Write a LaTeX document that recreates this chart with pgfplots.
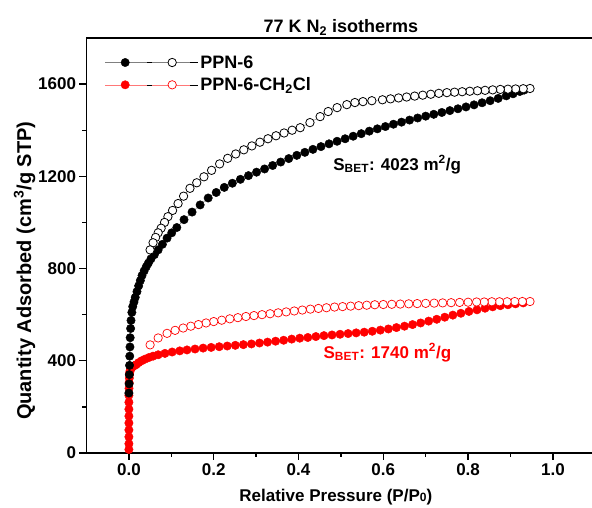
\documentclass[border=0pt]{standalone}
\usepackage{fontspec}
\setmainfont{Liberation Sans}
\usepackage{pgfplots}
\pgfplotsset{compat=1.18}

\definecolor{ppnred}{RGB}{255,0,0}
\definecolor{ppnredline}{RGB}{255,120,120}

\newcommand{\lbl}{\bfseries\fontsize{17}{20}\selectfont}

\begin{document}
\begin{tikzpicture}
\useasboundingbox (-86.5pt,-55pt) rectangle (505.5pt,453pt);
\begin{axis}[
  scale only axis,
  width=508.8pt, height=415pt,
  xmin=-0.1, xmax=1.1, ymin=0, ymax=1800,
  xtick={0,0.2,0.4,0.6,0.8,1.0},
  ytick={0,400,800,1200,1600},
  minor x tick num=1, minor y tick num=1,
  tick pos=left, tick align=outside,
  major tick length=7pt, minor tick length=4pt,
  every tick/.style={black, line width=1.3pt},
  axis line style={line width=1.6pt},
  /pgf/number format/assume math mode=true,
  xticklabel style={/pgf/number format/.cd, fixed, fixed zerofill, precision=1},
  yticklabel style={/pgf/number format/.cd, fixed, 1000 sep={}},
  tick label style={font=\lbl},
  xlabel={Relative Pressure (P/P{\fontsize{12}{12}\selectfont 0})},
  ylabel={Quantity Adsorbed (cm\textsuperscript{3}/g STP)},
  every axis x label/.style={at={(rel axis cs:0.49,-0.118)}, anchor=base, font=\lbl},
  every axis y label/.style={at={(rel axis cs:-0.109,0.439)}, rotate=90, anchor=base, font=\bfseries\fontsize{20}{22}\selectfont},
  title={77 K N\textsubscript{2} isotherms},
  every axis title/.style={at={(rel axis cs:0.5,1)}, anchor=base, yshift=5pt, font=\bfseries\fontsize{18}{20}\selectfont},
  legend style={at={(rel axis cs:0.03,0.968)}, anchor=north west, draw=none, fill=none,
    font=\bfseries\fontsize{18}{20}\selectfont, row sep=4pt},
  legend cell align=left,
  clip=false,
]

% legend entries: adsorption (filled) and desorption (open) of each material
\addlegendimage{legend image code/.code={
  \path (0pt,0pt) -- (93pt,0pt);
  \draw[black!50, line width=0.45pt] (0pt,0pt) -- (42pt,0pt) (47pt,0pt) -- (85pt,0pt);
  \fill[black] (20pt,0pt) circle (4.2pt);
  \draw[black, fill=white, line width=0.8pt] (67pt,0pt) circle (4.2pt);}}
\addlegendentry{PPN-6}
\addlegendimage{legend image code/.code={
  \path (0pt,0pt) -- (93pt,0pt);
  \draw[ppnredline, line width=0.45pt] (0pt,0pt) -- (42pt,0pt) (47pt,0pt) -- (85pt,0pt);
  \fill[ppnred] (20pt,0pt) circle (4.2pt);
  \draw[ppnred, fill=white, line width=0.7pt] (67pt,0pt) circle (4.2pt);}}
\addlegendentry{PPN-6-CH\textsubscript{2}Cl}

% PPN-6-CH2Cl adsorption
\addplot[draw=ppnredline, line width=0.45pt, mark=*, mark size=4.2pt,
  mark options={draw=ppnred, fill=ppnred}, forget plot] coordinates {
(0,15)(0,40)(0,70)(0,100)(0,130)(0,160)(0,190)(0,220)(0,250)(0.0003,280)
(0.0006,305)(0.001,325)(0.0015,340)(0.002,350)(0.003,358)(0.005,366)(0.008,373)
(0.012,378)(0.017,383)(0.023,392)(0.030,400)(0.038,407)(0.047,414)(0.057,420)
(0.069,426)(0.085,432)(0.102,438)(0.120,443)(0.137,447)(0.156,451)(0.175,455)
(0.194,458)(0.213,461)(0.232,464)(0.251,467)(0.270,470)(0.289,473)(0.308,477)
(0.327,481)(0.346,485)(0.365,489)(0.384,494)(0.403,498)(0.422,501)(0.441,505)
(0.460,509)(0.479,512)(0.498,515)(0.517,518)(0.536,521)(0.555,524)(0.574,528)
(0.593,533)(0.612,538)(0.631,544)(0.650,550)(0.669,557)(0.688,564)(0.707,572)
(0.726,580)(0.745,589)(0.764,598)(0.783,606)(0.802,614)(0.821,621)(0.840,628)
(0.858,634)(0.876,639)(0.894,643)(0.912,647)(0.930,651)
};
% PPN-6-CH2Cl desorption
\addplot[draw=ppnredline, line width=0.45pt, mark=*, mark size=4.2pt,
  mark options={draw=ppnred, fill=white, line width=0.7pt}, forget plot] coordinates {
(0.946,657)(0.928,657)(0.910,657)(0.892,656)(0.874,656)(0.856,656)(0.838,655)
(0.820,655)(0.800,654)(0.780,653)(0.760,652)(0.740,651)(0.720,650)(0.700,649)
(0.680,648)(0.660,647)(0.640,646)(0.620,645)(0.600,644)(0.580,643)(0.561,641)
(0.542,639)(0.523,637)(0.504,635)(0.485,633)(0.466,630)(0.447,627)(0.428,624)
(0.409,620)(0.390,616)(0.371,612)(0.352,608)(0.333,604)(0.314,600)(0.295,596)
(0.276,592)(0.257,587)(0.238,582)(0.219,576)(0.200,570)(0.182,564)(0.164,557)
(0.146,550)(0.128,542)(0.109,532)(0.090,519)(0.069,499)(0.050,469)
};
% PPN-6 adsorption
\addplot[draw=black!50, line width=0.45pt, mark=*, mark size=4.2pt,
  mark options={draw=black, fill=black}, forget plot] coordinates {
(0,260)(0.0005,300)(0.001,340)(0.0015,380)(0.002,420)(0.0025,460)(0.003,500)
(0.004,540)(0.005,575)(0.007,610)(0.009,635)(0.012,655)(0.015,675)(0.019,700)
(0.023,725)(0.027,748)(0.031,770)(0.036,790)(0.041,808)(0.046,824)(0.052,842)
(0.060,860)(0.069,881)(0.079,905)(0.090,932)(0.101,955)(0.113,978)(0.130,1012)
(0.149,1045)(0.168,1076)(0.187,1106)(0.206,1130)(0.225,1152)(0.244,1170)
(0.263,1187)(0.282,1203)(0.301,1218)(0.320,1232)(0.339,1247)(0.358,1262)
(0.377,1277)(0.396,1291)(0.415,1304)(0.434,1317)(0.453,1329)(0.472,1341)
(0.491,1352)(0.510,1363)(0.529,1374)(0.548,1385)(0.567,1396)(0.586,1406)
(0.605,1416)(0.624,1426)(0.643,1435)(0.662,1444)(0.681,1453)(0.700,1461)
(0.719,1469)(0.738,1477)(0.757,1485)(0.776,1493)(0.795,1501)(0.814,1510)
(0.833,1519)(0.852,1528)(0.871,1538)(0.890,1549)(0.906,1558)(0.922,1568)
(0.932,1574)
};
% PPN-6 desorption
\addplot[draw=black!50, line width=0.45pt, mark=*, mark size=4.2pt,
  mark options={draw=black, fill=white, line width=0.8pt}, forget plot] coordinates {
(0.946,1581)(0.930,1580)(0.912,1579)(0.894,1578)(0.876,1577)(0.858,1575)
(0.840,1573)(0.822,1571)(0.804,1569)(0.786,1567)(0.768,1565)(0.750,1563)
(0.731,1560)(0.712,1556)(0.693,1552)(0.674,1548)(0.655,1544)(0.636,1540)
(0.617,1536)(0.598,1532)(0.573,1528)(0.552,1524)(0.533,1520)(0.514,1511)
(0.491,1498)(0.470,1481)(0.451,1459)(0.427,1433)(0.404,1411)(0.385,1400)
(0.366,1388)(0.347,1376)(0.328,1363)(0.309,1348)(0.290,1332)(0.271,1315)
(0.252,1297)(0.233,1278)(0.214,1254)(0.195,1226)(0.177,1198)(0.160,1172)
(0.144,1148)(0.129,1114)(0.116,1082)(0.103,1052)(0.092,1025)(0.084,1000)
(0.076,975)(0.069,955)(0.063,935)(0.057,912)(0.050,881)
};

\node[anchor=base west, font=\lbl] at (axis cs:0.474,1227) {S\textsubscript{BET}: 4023 m\textsuperscript{2}/g};
\node[anchor=base west, font=\lbl, text=ppnred] at (axis cs:0.451,412) {S\textsubscript{BET}: 1740 m\textsuperscript{2}/g};
\end{axis}
\end{tikzpicture}
\end{document}
